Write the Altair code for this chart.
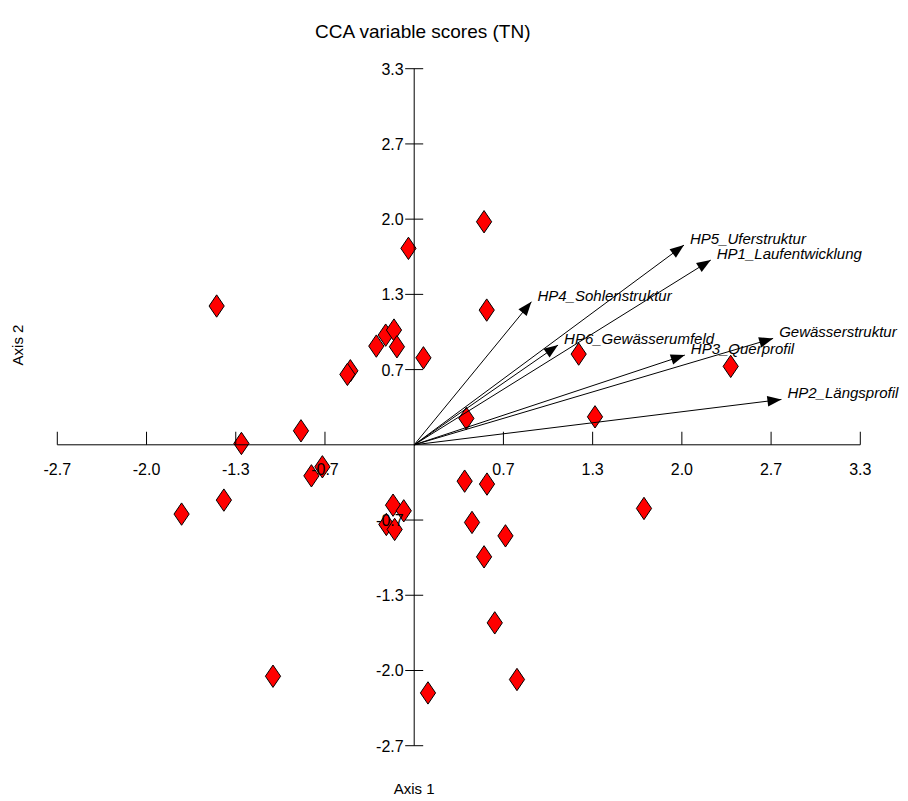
import math
import altair as alt
import pandas as pd

# ---------------- data ----------------
# site scores (red diamonds)
site_x = [0.522, -0.043, 0.542, -0.213, -0.151, -0.283, -0.129, 0.069, -0.477, -0.499,
          -1.476, -1.291, -0.846, -0.686, -0.768, -1.422, -1.738, -0.158, -0.078, -0.208,
          -0.146, 1.229, 2.365, 0.390, 1.351, 0.377, 0.544, 0.432, 0.682, 0.522,
          0.602, 0.768, 0.103, 1.717, -1.055]
site_y = [1.977, 1.741, 1.194, 0.972, 1.017, 0.875, 0.869, 0.771, 0.656, 0.624,
          1.230, 0.012, 0.124, -0.195, -0.275, -0.490, -0.614, -0.535, -0.585, -0.706,
          -0.750, 0.804, 0.695, 0.234, 0.248, -0.322, -0.348, -0.688, -0.807, -0.993,
          -1.578, -2.080, -2.199, -0.564, -2.051]

# variable scores (arrows)
var_names = ["HP5_Uferstruktur", "HP1_Laufentwicklung", "HP4_Sohlenstruktur",
             "HP6_Gewässerumfeld", "HP3_Querprofil", "Gewässerstruktur", "HP2_Längsprofil"]
var_x = [2.016, 2.216, 0.876, 1.075, 2.022, 2.682, 2.744]
var_y = [1.770, 1.637, 1.268, 0.884, 0.795, 0.943, 0.402]

# axis ticks
tick_vals = [-2.6667, -2.0, -1.3333, -0.6667, 0.6667, 1.3333, 2.0, 2.6667, 3.3333]
tick_labels = ["-2.7", "-2.0", "-1.3", "-0.7", "0.7", "1.3", "2.0", "2.7", "3.3"]

XMIN, XMAX = -2.6667, 3.3333
YMIN, YMAX = -2.6667, 3.3333

# ---------------- layout ----------------
W, H = 803, 677
PAD_L, PAD_T = 57.3, 68.7
FONT = "Liberation Sans"

xs = alt.Scale(domain=[XMIN, XMAX], nice=False, zero=False)
ys = alt.Scale(domain=[YMIN, YMAX], nice=False, zero=False)

px_x = W / (XMAX - XMIN)
px_y = H / (YMAX - YMIN)

sites = pd.DataFrame({"x": site_x, "y": site_y})
arrows = pd.DataFrame({"name": var_names, "x": var_x, "y": var_y})
arrows["ox"] = 0.0
arrows["oy"] = 0.0
arrows["angle"] = [
    (math.degrees(math.atan2(a * px_x, b * px_y)) + 360) % 360 for a, b in zip(var_x, var_y)
]
ticks = pd.DataFrame({"v": tick_vals, "lab": tick_labels, "zero": 0.0})
axes_df = pd.DataFrame({"x1": [XMIN, 0.0], "x2": [XMAX, 0.0],
                        "y1": [0.0, YMIN], "y2": [0.0, YMAX]})

DIAMOND = "M0,-1L0.68,0L0,1L-0.68,0Z"
TRI = "M0,0L-0.38,1L0.38,1Z"

diamonds = alt.Chart(sites).mark_point(
    shape=DIAMOND, size=500, filled=True, fill="#FF0000", stroke="black",
    strokeWidth=1, opacity=1, fillOpacity=1, strokeOpacity=1
).encode(
    x=alt.X("x:Q", scale=xs, axis=None),
    y=alt.Y("y:Q", scale=ys, axis=None),
)

axis_lines = alt.Chart(axes_df).mark_rule(color="black", strokeWidth=1).encode(
    x=alt.X("x1:Q", scale=xs, axis=None), x2="x2:Q",
    y=alt.Y("y1:Q", scale=ys, axis=None), y2="y2:Q",
)

x_ticks = alt.Chart(ticks).mark_tick(
    orient="vertical", size=13, thickness=1, color="black", yOffset=-6.5, opacity=1
).encode(x=alt.X("v:Q", scale=xs, axis=None), y=alt.Y("zero:Q", scale=ys, axis=None))

y_ticks = alt.Chart(ticks).mark_tick(
    orient="horizontal", size=18, thickness=1, color="black", opacity=1
).encode(x=alt.X("zero:Q", scale=xs, axis=None), y=alt.Y("v:Q", scale=ys, axis=None))

x_labels = alt.Chart(ticks).mark_text(
    align="center", baseline="middle", dy=25, fontSize=16, font=FONT, color="black"
).encode(x=alt.X("v:Q", scale=xs, axis=None), y=alt.Y("zero:Q", scale=ys, axis=None),
         text="lab:N")

y_labels = alt.Chart(ticks).mark_text(
    align="right", baseline="middle", dx=-10.5, dy=1, fontSize=16, font=FONT, color="black"
).encode(x=alt.X("zero:Q", scale=xs, axis=None), y=alt.Y("v:Q", scale=ys, axis=None),
         text="lab:N")

arrow_lines = alt.Chart(arrows).mark_rule(color="black", strokeWidth=1).encode(
    x=alt.X("ox:Q", scale=xs, axis=None), y=alt.Y("oy:Q", scale=ys, axis=None),
    x2="x:Q", y2="y:Q",
)

arrow_heads = alt.Chart(arrows).mark_point(
    shape=TRI, size=784, filled=True, color="black", opacity=1, strokeWidth=0
).encode(
    x=alt.X("x:Q", scale=xs, axis=None), y=alt.Y("y:Q", scale=ys, axis=None),
    angle=alt.Angle("angle:Q", scale=None),
)

arrow_labels = alt.Chart(arrows).mark_text(
    align="left", baseline="middle", dx=6, dy=-6, fontSize=15, font=FONT,
    fontStyle="italic", color="black"
).encode(x=alt.X("x:Q", scale=xs, axis=None), y=alt.Y("y:Q", scale=ys, axis=None),
         text="name:N")

axis_titles = pd.DataFrame({"t": ["Axis 1"], "zero": [0.0]})
axis1 = alt.Chart(axis_titles).mark_text(
    align="center", baseline="middle", fontSize=15, font=FONT, color="black"
).encode(x=alt.X("zero:Q", scale=xs, axis=None), y=alt.value(720), text="t:N")

axis2 = alt.Chart(pd.DataFrame({"t": ["Axis 2"]})).mark_text(
    align="center", baseline="middle", fontSize=15, font=FONT, color="black", angle=270
).encode(x=alt.value(18 - PAD_L), y=alt.value(345 - PAD_T), text="t:N")

chart = alt.layer(
    diamonds, axis_lines, x_ticks, y_ticks, arrow_lines, arrow_heads,
    x_labels, y_labels, arrow_labels, axis1, axis2
).properties(
    width=W, height=H,
    title=alt.TitleParams(
        "CCA variable scores (TN)", font=FONT, fontSize=19, fontWeight="normal",
        anchor="middle", frame="group", dx=-36, offset=20, color="black"
    ),
    autosize=alt.AutoSizeParams(type="none"),
    padding={"left": PAD_L, "top": PAD_T, "right": 908 - PAD_L - W, "bottom": 801 - PAD_T - H},
    background="white",
).configure_view(stroke=None)

chart.save("out.html", embed_options={"renderer": "svg", "actions": False})
